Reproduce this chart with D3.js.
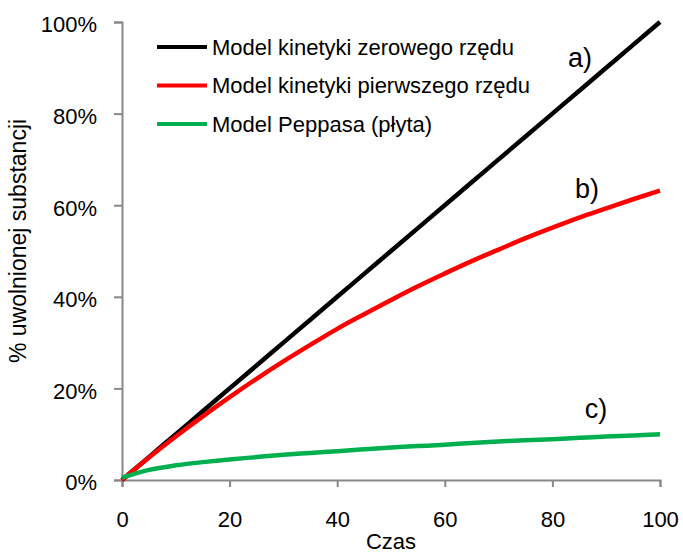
<!DOCTYPE html>
<html>
<head>
<meta charset="utf-8">
<script src="https://cdn.jsdelivr.net/npm/d3@7"></script>
<style>
  body { margin: 0; background: #fff; }
  text { font-family: "Liberation Sans", Arial, sans-serif; }
</style>
</head>
<body>
<div id="chart"></div>
<script>
// czas (x) values
var czas = [0, 5, 10, 15, 20, 25, 30, 35, 40, 45, 50, 55, 60, 65, 70, 75, 80, 85, 90, 95, 100];
// % uwolnionej substancji
var zerowy = [0, 5, 10, 15, 20, 25, 30, 35, 40, 45, 50, 55, 60, 65, 70, 75, 80, 85, 90, 95, 100];
var pierwszy = [0, 4.9, 9.5, 13.9, 18.1, 22.1, 25.9, 29.5, 33.0, 36.2, 39.3, 42.3, 45.1, 47.8, 50.3, 52.8, 55.1, 57.3, 59.3, 61.3, 63.2];
var peppas = [0.5, 2.2, 3.2, 3.9, 4.5, 5.0, 5.5, 5.9, 6.3, 6.7, 7.1, 7.4, 7.7, 8.1, 8.4, 8.7, 8.9, 9.2, 9.5, 9.7, 10.0];

var seriesNames = ["Model kinetyki zerowego rzędu", "Model kinetyki pierwszego rzędu", "Model Peppasa (płyta)"];
var seriesColors = ["#000000", "#ff0000", "#00b050"];
var seriesLabels = ["a)", "b)", "c)"];
var labelX = [82.9, 84.2, 86];   // czas
var labelY = [90.2, 61.6, 13.5]; // %

var xTicks = [0, 20, 40, 60, 80, 100];
var yTicks = [0, 20, 40, 60, 80, 100];

var margin = { top: 22, right: 23, bottom: 73, left: 122 },
  width = 683 - margin.left - margin.right,
  height = 553 - margin.top - margin.bottom;

var svg = d3
  .select("#chart")
  .append("svg")
  .attr("width", 683)
  .attr("height", 553);

var g = svg
  .append("g")
  .attr("transform", "translate(" + margin.left + "," + margin.top + ")");

var x = d3.scaleLinear().domain([0, 100]).range([0, width]);
var y = d3.scaleLinear().domain([0, 100]).range([height, 0]);

// axes
var yAxis = g
  .append("g")
  .call(
    d3.axisLeft(y)
      .tickValues(yTicks)
      .tickSize(8)
      .tickPadding(17)
      .tickFormat(function (d) { return d + "%"; })
  );
yAxis.selectAll(".tick text").attr("dy", "0.45em");

var xAxis = g
  .append("g")
  .attr("transform", "translate(0," + height + ")")
  .call(d3.axisBottom(x).tickValues(xTicks).tickSize(7).tickPadding(24));

[yAxis, xAxis].forEach(function (a) {
  a.select(".domain").attr("stroke", "#888").attr("stroke-width", 2);
  a.selectAll(".tick line").attr("stroke", "#888").attr("stroke-width", 2);
  a.selectAll(".tick text")
    .attr("fill", "#000")
    .style("font-size", "22px")
    .style("font-family", "Liberation Sans, Arial, sans-serif");
});

// y axis title
g.append("text")
  .attr("transform", "translate(" + (-96) + "," + (height / 2 - 10) + ") rotate(-90)")
  .attr("text-anchor", "middle")
  .style("font-size", "23px")
  .text("% uwolnionej substancji");

// x axis title
g.append("text")
  .attr("x", width / 2)
  .attr("y", height + 69)
  .attr("text-anchor", "middle")
  .style("font-size", "22px")
  .text("Czas");

// lines
var allSeries = [zerowy, pierwszy, peppas];
var line = d3
  .line()
  .x(function (d, i) { return x(czas[i]); })
  .y(function (d) { return y(d); })
  .curve(d3.curveMonotoneX);

allSeries.forEach(function (vals, i) {
  g.append("path")
    .datum(vals)
    .attr("fill", "none")
    .attr("stroke", seriesColors[i])
    .attr("stroke-width", 4.5)
    .attr("d", line);
});

// a) b) c) labels
seriesLabels.forEach(function (lab, i) {
  g.append("text")
    .attr("x", x(labelX[i]))
    .attr("y", y(labelY[i]))
    .text(lab)
    .style("font-size", "27px");
});

// legend
var legend = g
  .append("g")
  .attr("transform", "translate(35,25)");

seriesNames.forEach(function (name, i) {
  var row = legend.append("g").attr("transform", "translate(0," + i * 38.5 + ")");
  row.append("line")
    .attr("x1", 0)
    .attr("x2", 50)
    .attr("stroke", seriesColors[i])
    .attr("stroke-width", 4);
  row.append("text")
    .attr("x", 55)
    .attr("dy", "0.35em")
    .style("font-size", "22px")
    .text(name);
});
</script>
</body>
</html>
